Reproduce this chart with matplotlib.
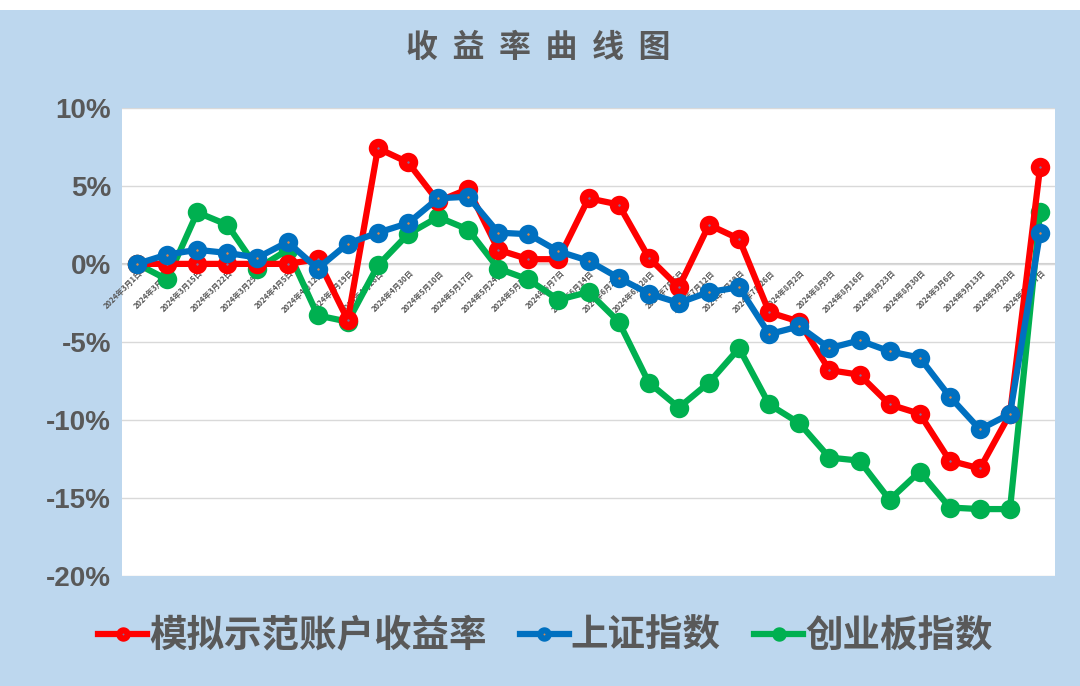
import numpy as np
import matplotlib.pyplot as plt
from matplotlib.patches import Rectangle
from matplotlib.ticker import FuncFormatter

plt.rcParams['font.family'] = ['Noto Sans CJK SC', 'DejaVu Sans']

# dates (weekly)
dates = ['2024年3月1日', '2024年3月8日', '2024年3月15日', '2024年3月22日', '2024年3月29日',
         '2024年4月5日', '2024年4月12日', '2024年4月19日', '2024年4月26日', '2024年4月30日',
         '2024年5月10日', '2024年5月17日', '2024年5月24日', '2024年5月31日', '2024年6月7日',
         '2024年6月14日', '2024年6月21日', '2024年6月28日', '2024年7月5日', '2024年7月12日',
         '2024年7月19日', '2024年7月26日', '2024年8月2日', '2024年8月9日', '2024年8月16日',
         '2024年8月23日', '2024年8月30日', '2024年9月6日', '2024年9月13日', '2024年9月20日',
         '2024年9月27日']

# returns in %
account = [0, 0, 0, 0, 0, 0, 0.3, -3.6, 7.4, 6.5, 4.0, 4.8, 0.9, 0.3, 0.3, 4.2,
           3.8, 0.4, -1.5, 2.5, 1.6, -3.1, -3.7, -6.8, -7.1, -9.0, -9.6, -12.6,
           -13.1, -9.6, 6.2]
sse = [0, 0.6, 0.9, 0.7, 0.4, 1.4, -0.3, 1.3, 2.0, 2.6, 4.2, 4.3, 2.0, 1.9, 0.8,
       0.2, -0.9, -1.9, -2.5, -1.8, -1.5, -4.5, -4.0, -5.4, -4.9, -5.6, -6.0,
       -8.5, -10.6, -9.6, 2.0]
gem = [0, -1.0, 3.3, 2.5, -0.3, 0.9, -3.3, -3.7, -0.1, 1.9, 3.0, 2.2, -0.3, -1.0,
       -2.3, -1.8, -3.7, -7.6, -9.2, -7.6, -5.4, -9.0, -10.2, -12.4, -12.6, -15.1,
       -13.3, -15.6, -15.7, -15.7, 3.3]

labels = ['模拟示范账户收益率', '上证指数', '创业板指数']

bg = '#BDD7EE'
grey = '#595959'

fig = plt.figure(figsize=(10.8, 6.86), dpi=100)
fig.patch.set_facecolor(bg)
# white strip on top like the sheet behind the chart
fig.patches.append(Rectangle((0, 0.986), 1, 0.014, transform=fig.transFigure,
                             facecolor='white', edgecolor='none', zorder=0))

ax = fig.add_axes([0.113, 0.160, 0.864, 0.683])
ax.set_facecolor('white')

x = np.arange(len(dates))
ax.plot(x, account, color='#FF0000', lw=4.5, marker='o', ms=8,
        mfc='#7F6F9F', mec='#FF0000', mew=6, label=labels[0], zorder=3)
ax.plot(x, sse, color='#0070C0', lw=4.5, marker='o', ms=8,
        mfc='#E08A4A', mec='#0070C0', mew=6, label=labels[1], zorder=4)
ax.plot(x, gem, color='#00B050', lw=4.5, marker='o', ms=8,
        mfc='#00B050', mec='#00B050', mew=6, label=labels[2], zorder=2)

ax.set_xlim(-0.5, len(dates) - 0.5)
ax.set_ylim(-20, 10)
ax.set_yticks(np.arange(-20, 11, 5))
ax.yaxis.set_major_formatter(FuncFormatter(lambda v, p: '%d%%' % v))
for t in ax.get_yticklabels():
    t.set_fontfamily('Liberation Sans')
    t.set_fontweight('bold')
    t.set_fontsize(20)
    t.set_color(grey)
ax.tick_params(axis='y', length=0, pad=8)
ax.set_xticks([])
ax.grid(axis='y', color='#D9D9D9', lw=1)
ax.axhline(0, color='#D0D0D0', lw=1.5, zorder=1)
for s in ax.spines.values():
    s.set_visible(False)

# date labels sit on the zero line
for i, d in enumerate(dates):
    ax.text(i + 0.25, -0.3, d, rotation=45, ha='right', va='top',
            fontsize=5.6, color=grey, fontweight='bold', zorder=1)

fig.text(0.498, 0.930, '收  益  率  曲  线  图', ha='center', va='center',
         fontsize=23, fontweight='bold', color=grey)

leg = fig.legend(loc='center', bbox_to_anchor=(0.505, 0.074), ncol=3, frameon=False,
                 fontsize=27, handlelength=1.3, handletextpad=0.05, columnspacing=0.9,
                 markerscale=0.55)
for t in leg.get_texts():
    t.set_color(grey)
    t.set_fontweight('bold')

fig.savefig('out.png', dpi=100, facecolor=bg)
